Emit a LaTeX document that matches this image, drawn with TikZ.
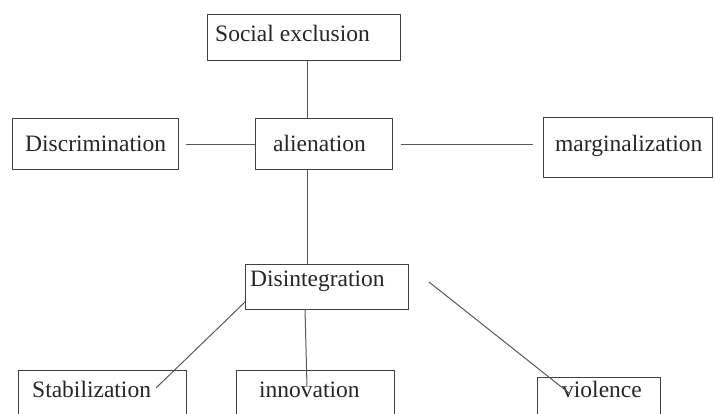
\documentclass[tikz,border=0pt]{standalone}
\usepackage{fontspec}
\setmainfont{Liberation Serif}
\begin{document}
\begin{tikzpicture}[x=1pt,y=-1pt,
  box/.style={draw=black!75,line width=1pt,inner sep=0pt,rectangle},
  txt/.style={anchor=base west,inner sep=0pt,text=black!85,font=\fontsize{23.5}{26}\selectfont},
  conn/.style={draw=black!65,line width=1pt}]
\useasboundingbox (0,0) rectangle (715,414);
\clip (0,0) rectangle (715,414);
% boxes
\node[box,minimum width=193pt,minimum height=46pt] (soc) at (303.5,38) {};
\node[box,minimum width=166pt,minimum height=51pt] (disc) at (95,144.5) {};
\node[box,minimum width=137pt,minimum height=51pt] (alien) at (323.5,144.5) {};
\node[box,minimum width=169pt,minimum height=60pt] (marg) at (627.5,148) {};
\node[box,minimum width=163pt,minimum height=44pt] (disi) at (326.5,287) {};
\node[box,minimum width=168pt,minimum height=60pt] (stab) at (102,400) {};
\node[box,minimum width=158pt,minimum height=60pt] (inno) at (315,400) {};
\node[box,minimum width=123pt,minimum height=50pt] (viol) at (598.5,402) {};
% texts
\node[txt] (socT) at (215,42) {Social exclusion};
\node[txt] (discT) at (25,152) {Discrimination};
\node[txt] (alienT) at (273,152) {alienation};
\node[txt] (margT) at (555,152) {marginalization};
\node[txt] (disiT) at (250,287) {Disintegration};
\node[txt] (stabT) at (32,397) {Stabilization};
\node[txt] (innoT) at (259,397) {innovation};
\node[txt] (violT) at (562,397) {violence};
% helper coordinates
\coordinate (v1) at (307,0);
\coordinate (v2) at (305,309);
\coordinate (innoEnd) at (307,387);
\coordinate (stabStart) at (245,302);
\coordinate (stabEnd) at (156,388);
\coordinate (violStart) at (429,282);
\coordinate (violEnd) at (569,393);
% connectors
\draw[conn] (soc.south -| v1) -- (alien.north -| v1);
\draw[conn] ([xshift=7pt]disc.east) -- (alien.west);
\draw[conn] ([xshift=8pt]alien.east) -- ([xshift=-10pt]marg.west |- alien.east);
\draw[conn] (alien.south -| v1) -- (disi.north -| v1);
\draw[conn] (v2) -- (innoEnd);
\draw[conn] (stabStart) -- (stabEnd);
\draw[conn] (violStart) -- (violEnd);
\end{tikzpicture}
\end{document}
